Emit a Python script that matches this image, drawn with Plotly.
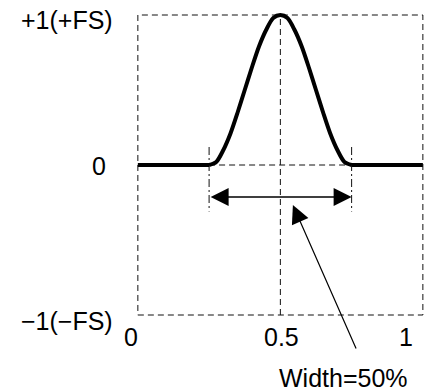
import plotly.graph_objects as go

# pulse waveform (x = fraction of period, y = fraction of full scale)
pulse_x = [0, 0.25, 0.275, 0.3, 0.325, 0.35, 0.375, 0.4, 0.425, 0.45, 0.475, 0.5,
           0.525, 0.55, 0.575, 0.6, 0.625, 0.65, 0.675, 0.7, 0.725, 0.75, 1]
pulse_y = [0, 0, 0.02, 0.10, 0.21, 0.35, 0.50, 0.65, 0.79, 0.90, 0.98, 1.00,
           0.98, 0.90, 0.79, 0.65, 0.50, 0.35, 0.21, 0.10, 0.02, 0, 0]

x_ticks = [0, 0.5, 1]
x_tick_labels = ["0", "0.5", "1"]
y_ticks = [1, 0, -1]
y_tick_labels = ["+1(+FS)", "0", "\u22121(\u2212FS)"]

width_start, width_end = 0.25, 0.75
width_label = "Width=50%"

FONT = "Liberation Sans, Arial, sans-serif"
FS = 25
DASH = "6px,4px"
DASHDOT = "8px,3px,2px,3px"
GREY = "#111111"

fig = go.Figure()
# flat baseline parts straight, the pulse itself smoothed
seg_flat = [(0, 2), (21, 23)]
for a, b in seg_flat:
    fig.add_trace(go.Scatter(x=pulse_x[a:b], y=pulse_y[a:b], mode="lines",
                             line=dict(color="black", width=4), hoverinfo="skip"))
fig.add_trace(go.Scatter(x=pulse_x[1:22], y=pulse_y[1:22], mode="lines", line_shape="spline",
                         line=dict(color="black", width=4, smoothing=0.8), hoverinfo="skip"))

# dashed frame and guides
fig.add_shape(type="rect", x0=0, x1=1, y0=-1, y1=1, layer="below",
              line=dict(color=GREY, width=1, dash=DASH))
fig.add_shape(type="line", x0=0.5, x1=0.5, y0=-1, y1=1, layer="below",
              line=dict(color=GREY, width=1, dash=DASH))
fig.add_shape(type="line", x0=width_start, x1=width_end, y0=0, y1=0, layer="below",
              line=dict(color=GREY, width=1, dash=DASH))
for xv in (width_start, width_end):
    fig.add_shape(type="line", x0=xv, x1=xv, y0=0.12, y1=-0.31, layer="below",
                  line=dict(color=GREY, width=1, dash=DASHDOT))

# double arrow for the width
fig.add_annotation(x=width_end, y=-0.213, ax=width_start, ay=-0.213, xref="x", yref="y",
                   axref="x", ayref="y", text="", showarrow=True, arrowside="end+start",
                   arrowhead=2, arrowsize=2.4, arrowwidth=1.5, arrowcolor="black")
# pointer from label
fig.add_annotation(x=0.544, y=-0.267, ax=0.768, ay=-1.233, xref="x", yref="y",
                   axref="x", ayref="y", text="", showarrow=True,
                   arrowhead=2, arrowsize=3, arrowwidth=1.2, arrowcolor="black")
# label sits below the axes; anchor it at y=-1 (inside range) and shift down
fig.add_annotation(x=0.72, y=-1, xref="x", yref="y", text=width_label, showarrow=False,
                   yshift=-63, font=dict(family=FONT, size=FS, color="black"))

# tick labels
x_shifts = [-7, 1, -17]
for xv, lab, sh in zip(x_ticks, x_tick_labels, x_shifts):
    fig.add_annotation(x=xv, y=-1, xref="x", yref="y", text=lab, showarrow=False,
                       xshift=sh, yshift=-22, font=dict(family=FONT, size=FS, color="black"))
y_xshifts = [-23, -30, -23]
y_yshifts = [-5, -1, -6]
for yv, lab, xs, ys in zip(y_ticks, y_tick_labels, y_xshifts, y_yshifts):
    fig.add_annotation(x=0, y=yv, xref="x", yref="y", text=lab, showarrow=False,
                       xanchor="right", xshift=xs, yshift=ys,
                       font=dict(family=FONT, size=FS, color="black"))

fig.update_xaxes(range=[-0.01, 1.004], visible=False)
fig.update_yaxes(range=[-1.02, 1.02], visible=False)
fig.update_layout(width=425, height=392, margin=dict(l=135, r=1, t=12, b=74),
                  plot_bgcolor="white", paper_bgcolor="white", showlegend=False)
# drop the default 8px body margin so the figure fills the window
fig.write_html("out.html", config={"displayModeBar": False},
               post_script="document.body.style.margin = '0px';")
